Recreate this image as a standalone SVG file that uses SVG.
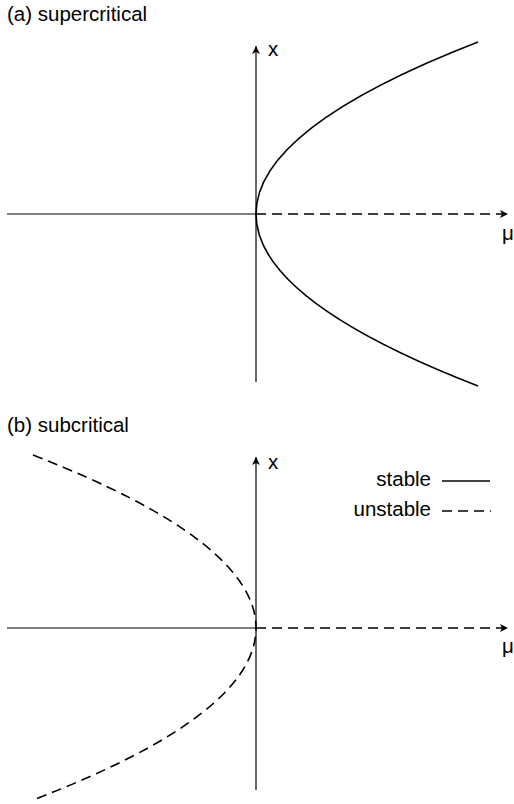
<svg xmlns="http://www.w3.org/2000/svg" width="514" height="804" viewBox="0 0 514 804">
<defs>
<marker id="ah" viewBox="0 0 10 10" refX="10" refY="5" markerWidth="10" markerHeight="8" markerUnits="userSpaceOnUse" orient="auto">
<path d="M0,0 L10,5 L0,10 L2.5,5 Z" fill="#000"/>
</marker>
</defs>
<style>
text{font-family:"Liberation Sans",Arial,sans-serif;font-size:20.5px;fill:#000}
.ax{stroke:#000;stroke-width:1.2;fill:none}
.s{stroke:#000;stroke-width:1.6;fill:none}
.d{stroke:#000;stroke-width:1.6;fill:none;stroke-dasharray:10,6}
</style>
<rect width="514" height="804" fill="#fff"/>
<g id="panel-a">
<text x="7" y="21">(a) supercritical</text>
<g id="axes-a">
<line class="ax" x1="256" y1="382" x2="256" y2="46" marker-end="url(#ah)"/>
<line class="ax" x1="7" y1="214" x2="256" y2="214"/>
<line class="d" x1="256" y1="214" x2="508" y2="214" marker-end="url(#ah)"/>
<text x="268" y="56">x</text>
<text x="502" y="240">μ</text>
</g>
<path class="s" d="M478,42 Q256,128 256,214 Q256,300 478,386"/>
</g>
<g id="panel-b">
<text x="7" y="432">(b) subcritical</text>
<g id="axes-b">
<line class="ax" x1="256" y1="790" x2="256" y2="457" marker-end="url(#ah)"/>
<line class="ax" x1="7" y1="628" x2="256" y2="628"/>
<line class="d" x1="256" y1="628" x2="508" y2="628" marker-end="url(#ah)"/>
<text x="268" y="469">x</text>
<text x="502" y="653">μ</text>
</g>
<path class="d" d="M33,455 Q256,541.5 256,628 Q256,714.5 33,800"/>
<g id="legend">
<text x="431" y="486" text-anchor="end">stable</text>
<line class="s" x1="442" y1="481" x2="490" y2="481"/>
<text x="431" y="516" text-anchor="end">unstable</text>
<line class="d" x1="442" y1="511" x2="491" y2="511" stroke-dasharray="8,5"/>
</g>
</g>
</svg>
